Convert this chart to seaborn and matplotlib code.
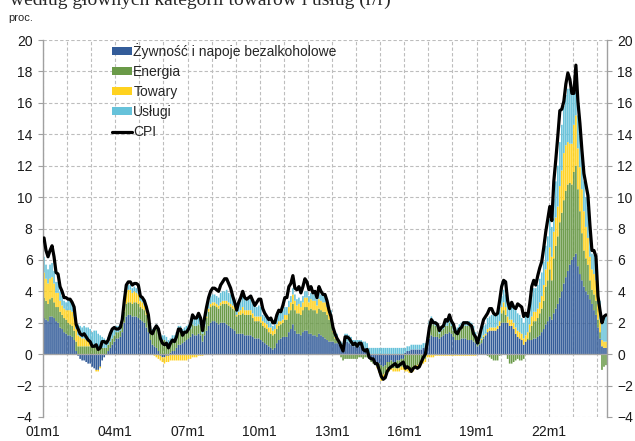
import numpy as np
import pandas as pd
import matplotlib
matplotlib.use("Agg")
import matplotlib.pyplot as plt
import seaborn as sns
from matplotlib.lines import Line2D
from matplotlib.patches import Patch

# Inflacja CPI r/r i wkłady głównych kategorii (pkt proc.), 2001m1 - 2024m5
cpi = [
    7.4, 6.6, 6.2, 6.6, 6.9, 6.2, 5.2, 5.1, 4.3, 4.0, 3.6, 3.6,
    3.5, 3.5, 3.3, 3.0, 1.9, 1.6, 1.3, 1.2, 1.3, 1.1, 0.9, 0.8,
    0.5, 0.5, 0.6, 0.3, 0.4, 0.8, 0.8, 0.7, 0.9, 1.3, 1.6, 1.7,
    1.6, 1.6, 1.7, 2.2, 3.4, 4.4, 4.6, 4.6, 4.4, 4.5, 4.5, 4.4,
    3.7, 3.6, 3.4, 3.0, 2.5, 1.4, 1.3, 1.6, 1.8, 1.6, 1.0, 0.7,
    0.6, 0.7, 0.4, 0.7, 0.9, 0.8, 1.1, 1.6, 1.6, 1.2, 1.4, 1.4,
    1.6, 1.9, 2.5, 2.3, 2.3, 2.6, 2.3, 1.5, 2.3, 3.0, 3.6, 4.0,
    4.2, 4.2, 4.1, 4.0, 4.4, 4.6, 4.8, 4.8, 4.5, 4.2, 3.7, 3.3,
    2.8, 3.3, 3.6, 4.0, 3.6, 3.5, 3.6, 3.7, 3.4, 3.1, 3.3, 3.5,
    3.5, 2.9, 2.6, 2.4, 2.2, 2.3, 2.0, 2.0, 2.5, 2.8, 2.7, 3.1,
    3.6, 3.6, 4.3, 4.5, 5.0, 4.2, 4.1, 4.3, 3.9, 4.3, 4.8, 4.6,
    4.1, 4.3, 3.9, 4.0, 3.6, 4.3, 4.0, 3.8, 3.8, 3.4, 2.8, 2.4,
    1.7, 1.3, 1.0, 0.8, 0.5, 0.2, 1.1, 1.1, 1.0, 0.8, 0.6, 0.7,
    0.5, 0.7, 0.7, 0.3, 0.2, 0.3, -0.2, -0.3, -0.3, -0.6, -0.6, -1.0,
    -1.4, -1.6, -1.5, -1.1, -0.9, -0.8, -0.7, -0.6, -0.8, -0.7, -0.6, -0.5,
    -0.9, -0.8, -0.9, -1.1, -0.9, -0.8, -0.9, -0.8, -0.5, -0.2, 0.0, 0.8,
    1.7, 2.2, 2.0, 2.0, 1.9, 1.5, 1.7, 1.8, 2.2, 2.1, 2.5, 2.1,
    1.9, 1.4, 1.3, 1.6, 1.7, 2.0, 2.0, 2.0, 1.9, 1.8, 1.3, 1.1,
    0.7, 1.2, 1.7, 2.2, 2.4, 2.6, 2.9, 2.9, 2.6, 2.5, 2.6, 3.4,
    4.3, 4.7, 4.6, 3.4, 2.9, 3.3, 3.0, 2.9, 3.2, 3.1, 3.0, 2.4,
    2.6, 2.4, 3.2, 4.3, 4.7, 4.4, 5.0, 5.5, 5.9, 6.8, 7.8, 8.6,
    9.4, 8.5, 11.0, 12.4, 13.9, 15.5, 15.6, 16.1, 17.2, 17.9, 17.5, 16.6,
    16.6, 18.4, 16.1, 14.7, 13.0, 11.5, 10.8, 10.1, 8.2, 6.6, 6.6, 6.2,
    3.7, 2.8, 2.0, 2.4, 2.5,
]

zywnosc = [
    2.3, 2.2, 2.1, 2.4, 2.4, 2.3, 2.1, 2.0, 1.7, 1.6, 1.4, 1.3,
    1.2, 1.2, 1.1, 0.9, 0.2, -0.1, -0.3, -0.4, -0.4, -0.5, -0.6, -0.6,
    -0.8, -0.9, -1.0, -1.0, -0.8, -0.4, -0.2, 0.0, 0.2, 0.4, 0.6, 0.8,
    1.0, 1.0, 1.1, 1.4, 2.0, 2.4, 2.5, 2.5, 2.4, 2.4, 2.4, 2.3,
    2.2, 2.1, 2.0, 1.7, 1.4, 0.9, 0.6, 0.5, 0.4, 0.2, -0.1, -0.2,
    -0.2, -0.1, -0.1, 0.1, 0.2, 0.2, 0.4, 0.6, 0.6, 0.7, 0.8, 0.9,
    1.0, 1.1, 1.3, 1.2, 1.2, 1.3, 1.2, 0.8, 1.2, 1.5, 1.8, 2.0,
    2.1, 2.1, 2.0, 1.9, 2.0, 2.0, 2.0, 1.9, 1.8, 1.7, 1.6, 1.5,
    1.3, 1.3, 1.3, 1.3, 1.2, 1.2, 1.2, 1.2, 1.1, 1.0, 1.0, 1.0,
    0.9, 0.8, 0.7, 0.6, 0.5, 0.4, 0.3, 0.4, 0.7, 0.9, 1.0, 1.1,
    1.1, 1.1, 1.4, 1.6, 1.9, 1.5, 1.3, 1.3, 1.2, 1.4, 1.5, 1.5,
    1.3, 1.3, 1.2, 1.2, 1.1, 1.3, 1.2, 1.1, 1.0, 0.9, 0.8, 0.8,
    0.8, 0.7, 0.7, 0.6, 0.5, 0.4, 0.8, 0.8, 0.7, 0.6, 0.5, 0.5,
    0.5, 0.5, 0.5, 0.4, 0.4, 0.3, -0.1, -0.3, -0.4, -0.5, -0.5, -0.6,
    -0.7, -0.8, -0.7, -0.5, -0.5, -0.4, -0.5, -0.5, -0.4, -0.4, -0.3, -0.3,
    0.1, 0.2, 0.2, 0.3, 0.3, 0.3, 0.3, 0.3, 0.3, 0.4, 0.4, 0.6,
    1.0, 1.2, 1.1, 1.1, 1.1, 1.0, 1.1, 1.2, 1.3, 1.3, 1.4, 1.3,
    1.1, 0.9, 0.9, 0.9, 1.0, 1.0, 1.0, 0.9, 0.9, 0.9, 0.8, 0.7,
    0.5, 0.6, 0.7, 1.0, 1.2, 1.4, 1.5, 1.5, 1.5, 1.5, 1.6, 1.8,
    2.0, 2.0, 2.0, 2.0, 1.8, 1.8, 1.6, 1.3, 1.1, 1.0, 0.9, 0.6,
    0.8, 0.9, 0.9, 0.9, 1.0, 1.0, 1.1, 1.2, 1.4, 1.6, 1.9, 2.1,
    2.4, 2.2, 2.6, 2.9, 3.2, 3.6, 4.0, 4.5, 4.9, 5.3, 5.7, 6.0,
    6.2, 6.4, 5.6, 5.1, 4.7, 4.3, 4.0, 3.8, 3.5, 3.2, 2.8, 2.5,
    1.7, 1.0, 0.5, 0.4, 0.4,
]

energia = [
    1.3, 1.2, 1.1, 1.1, 1.2, 1.0, 0.9, 1.0, 1.0, 0.9, 0.9, 0.9,
    0.8, 0.7, 0.7, 0.6, 0.6, 0.5, 0.5, 0.5, 0.5, 0.5, 0.5, 0.5,
    0.5, 0.6, 0.6, 0.4, 0.4, 0.4, 0.4, 0.4, 0.4, 0.4, 0.4, 0.4,
    0.4, 0.4, 0.4, 0.5, 0.7, 0.8, 0.8, 0.8, 0.8, 0.9, 0.9, 0.9,
    0.8, 0.8, 0.8, 0.8, 0.7, 0.6, 0.8, 1.0, 1.2, 1.2, 1.0, 0.9,
    0.9, 0.8, 0.6, 0.6, 0.7, 0.7, 0.7, 0.9, 0.8, 0.5, 0.5, 0.5,
    0.5, 0.5, 0.6, 0.6, 0.6, 0.6, 0.6, 0.5, 0.6, 0.8, 0.9, 1.0,
    1.0, 1.0, 1.0, 1.0, 1.1, 1.2, 1.2, 1.3, 1.3, 1.3, 1.3, 1.3,
    1.1, 1.2, 1.2, 1.3, 1.3, 1.3, 1.3, 1.3, 1.2, 1.1, 1.1, 1.1,
    1.1, 1.0, 1.0, 1.0, 0.9, 0.9, 0.9, 0.9, 0.9, 0.9, 0.9, 0.9,
    1.1, 1.1, 1.2, 1.2, 1.3, 1.3, 1.3, 1.3, 1.3, 1.4, 1.5, 1.5,
    1.5, 1.6, 1.6, 1.6, 1.5, 1.6, 1.6, 1.6, 1.7, 1.6, 1.4, 1.4,
    0.6, 0.3, 0.2, 0.0, -0.2, -0.4, -0.3, -0.3, -0.3, -0.3, -0.3, -0.3,
    -0.3, -0.2, -0.2, -0.3, -0.2, -0.2, -0.2, -0.2, -0.2, -0.2, -0.3, -0.5,
    -0.8, -0.5, -0.5, -0.4, -0.4, -0.4, -0.4, -0.4, -0.5, -0.5, -0.5, -0.5,
    -0.8, -0.8, -0.9, -0.9, -0.8, -0.7, -0.7, -0.6, -0.5, -0.4, -0.3, 0.2,
    0.8, 0.9, 0.8, 0.7, 0.6, 0.3, 0.4, 0.4, 0.5, 0.5, 0.6, 0.5,
    0.4, 0.4, 0.5, 0.7, 0.7, 0.8, 0.8, 0.9, 0.9, 0.8, 0.7, 0.4,
    0.1, 0.2, 0.2, 0.1, 0.0, -0.1, -0.2, -0.3, -0.4, -0.4, -0.4, -0.1,
    0.6, 0.8, 0.5, -0.3, -0.6, -0.6, -0.5, -0.4, -0.3, -0.4, -0.4, -0.3,
    0.0, 0.1, 0.5, 0.9, 1.1, 1.1, 1.2, 1.4, 1.5, 1.8, 2.4, 2.6,
    3.0, 2.5, 3.5, 4.0, 4.3, 4.8, 5.0, 5.3, 5.5, 5.5, 5.2, 4.8,
    5.4, 5.6, 4.9, 4.0, 3.0, 2.3, 2.1, 1.9, 1.2, 0.9, 1.0, 0.9,
    0.5, 0.4, -1.0, -0.8, -0.7,
]

towary = [
    1.6, 1.4, 1.3, 1.3, 1.3, 1.2, 0.9, 0.9, 0.7, 0.6, 0.6, 0.6,
    0.8, 0.9, 0.9, 0.9, 0.8, 0.7, 0.6, 0.5, 0.5, 0.4, 0.4, 0.3,
    0.1, 0.0, -0.1, -0.1, -0.1, 0.0, 0.0, 0.0, 0.0, 0.0, 0.0, 0.0,
    0.0, 0.0, 0.0, 0.2, 0.6, 0.8, 0.8, 0.8, 0.7, 0.7, 0.6, 0.6,
    0.4, 0.4, 0.3, 0.3, 0.2, 0.1, 0.0, -0.1, -0.2, -0.3, -0.3, -0.3,
    -0.4, -0.4, -0.4, -0.4, -0.4, -0.4, -0.4, -0.4, -0.4, -0.4, -0.4, -0.4,
    -0.3, -0.3, -0.2, -0.2, -0.2, -0.1, -0.1, -0.1, 0.0, 0.1, 0.2, 0.2,
    0.2, 0.2, 0.2, 0.2, 0.2, 0.2, 0.2, 0.2, 0.2, 0.2, 0.2, 0.2,
    0.1, 0.2, 0.3, 0.4, 0.3, 0.3, 0.3, 0.3, 0.3, 0.3, 0.3, 0.3,
    0.4, 0.3, 0.3, 0.3, 0.3, 0.4, 0.3, 0.3, 0.3, 0.3, 0.2, 0.2,
    0.3, 0.3, 0.4, 0.5, 0.6, 0.6, 0.5, 0.6, 0.5, 0.5, 0.6, 0.6,
    0.5, 0.6, 0.6, 0.6, 0.5, 0.6, 0.6, 0.6, 0.6, 0.5, 0.4, 0.3,
    0.1, 0.1, 0.1, 0.0, 0.0, 0.0, 0.0, 0.0, 0.0, 0.0, 0.0, 0.0,
    0.0, 0.0, 0.0, 0.0, 0.0, 0.0, 0.0, 0.0, 0.0, 0.0, -0.1, -0.1,
    -0.2, -0.2, -0.2, -0.2, -0.2, -0.2, -0.2, -0.2, -0.2, -0.2, -0.2, -0.2,
    -0.3, -0.3, -0.3, -0.3, -0.3, -0.2, -0.2, -0.2, -0.2, -0.2, -0.2, -0.2,
    -0.2, -0.2, -0.2, -0.1, -0.1, -0.1, -0.1, -0.1, -0.1, -0.1, -0.1, -0.1,
    -0.1, -0.1, -0.1, -0.1, -0.1, -0.1, -0.1, -0.1, -0.1, -0.1, -0.1, -0.1,
    0.0, 0.0, 0.1, 0.1, 0.1, 0.2, 0.2, 0.2, 0.2, 0.2, 0.2, 0.3,
    0.4, 0.5, 0.5, 0.4, 0.4, 0.4, 0.4, 0.4, 0.4, 0.4, 0.4, 0.4,
    0.4, 0.4, 0.5, 0.6, 0.6, 0.6, 0.6, 0.7, 0.8, 1.0, 1.1, 1.2,
    1.4, 1.5, 1.7, 1.8, 1.9, 2.3, 2.7, 3.0, 2.9, 2.7, 2.5, 2.6,
    3.0, 3.2, 2.6, 2.8, 2.8, 2.5, 2.0, 1.7, 1.5, 1.3, 1.3, 1.3,
    1.0, 0.8, 0.4, 0.4, 0.4,
]

uslugi = [
    1.0, 0.9, 0.9, 0.9, 0.9, 0.8, 0.7, 0.7, 0.6, 0.6, 0.5, 0.5,
    0.6, 0.6, 0.7, 0.7, 0.7, 0.7, 0.7, 0.7, 0.8, 0.8, 0.8, 0.8,
    0.8, 0.9, 0.9, 0.9, 0.8, 0.7, 0.6, 0.5, 0.5, 0.5, 0.5, 0.5,
    0.4, 0.4, 0.4, 0.3, 0.3, 0.3, 0.3, 0.3, 0.3, 0.3, 0.3, 0.3,
    0.4, 0.4, 0.4, 0.3, 0.3, 0.2, 0.2, 0.2, 0.3, 0.3, 0.3, 0.3,
    0.3, 0.3, 0.3, 0.3, 0.3, 0.3, 0.3, 0.3, 0.4, 0.4, 0.4, 0.4,
    0.4, 0.4, 0.5, 0.5, 0.5, 0.5, 0.5, 0.4, 0.4, 0.4, 0.5, 0.5,
    0.5, 0.5, 0.5, 0.5, 0.6, 0.6, 0.6, 0.7, 0.6, 0.6, 0.5, 0.5,
    0.4, 0.5, 0.6, 0.8, 0.8, 0.7, 0.7, 0.7, 0.6, 0.6, 0.6, 0.7,
    0.6, 0.4, 0.4, 0.4, 0.4, 0.3, 0.3, 0.3, 0.4, 0.5, 0.6, 0.6,
    0.5, 0.5, 0.4, 0.4, 0.4, 0.4, 0.4, 0.4, 0.4, 0.4, 0.4, 0.4,
    0.4, 0.4, 0.4, 0.4, 0.4, 0.4, 0.4, 0.4, 0.4, 0.4, 0.3, 0.3,
    0.3, 0.3, 0.3, 0.3, 0.3, 0.3, 0.5, 0.5, 0.5, 0.5, 0.4, 0.4,
    0.4, 0.4, 0.4, 0.4, 0.4, 0.4, 0.4, 0.4, 0.4, 0.4, 0.4, 0.4,
    0.4, 0.4, 0.4, 0.4, 0.4, 0.4, 0.4, 0.4, 0.4, 0.4, 0.4, 0.4,
    0.3, 0.3, 0.3, 0.3, 0.3, 0.3, 0.3, 0.3, 0.3, 0.3, 0.3, 0.3,
    0.3, 0.3, 0.3, 0.3, 0.3, 0.3, 0.3, 0.3, 0.3, 0.3, 0.4, 0.4,
    0.4, 0.3, 0.3, 0.3, 0.3, 0.3, 0.3, 0.3, 0.3, 0.3, 0.3, 0.3,
    0.3, 0.4, 0.5, 0.6, 0.6, 0.7, 0.7, 0.8, 0.8, 0.8, 0.8, 0.9,
    0.7, 0.8, 0.8, 0.9, 1.0, 1.1, 1.1, 1.1, 1.1, 1.1, 1.0, 1.0,
    1.3, 1.3, 1.3, 1.4, 1.5, 1.5, 1.5, 1.5, 1.5, 1.5, 1.5, 1.6,
    1.8, 1.9, 2.1, 2.3, 2.6, 2.8, 2.9, 3.0, 3.2, 3.4, 3.5, 3.4,
    2.6, 2.4, 2.1, 2.0, 2.0, 1.9, 1.9, 1.9, 1.4, 1.0, 1.2, 1.2,
    1.0, 1.2, 1.5, 1.6, 1.6,
]

nazwy = ["Żywność i napoje bezalkoholowe", "Energia", "Towary", "Usługi"]
kolory = ["#335C99", "#6A9A48", "#FFD21F", "#66C2DA"]
etykiety_x = ["01m1", "04m1", "07m1", "10m1", "13m1", "16m1", "19m1", "22m1"]

sns.set_style("white")
plt.rcParams['font.family'] = ['Liberation Sans', 'DejaVu Sans']

n = len(cpi)
df = pd.DataFrame({'t': np.arange(n), 'cpi': cpi})

fig = plt.figure(figsize=(6.35, 4.41), dpi=100)
ax = fig.add_axes([43 / 635, 1 - 417 / 441, (607 - 43) / 635, (417 - 40) / 441])

# słupki skumulowane - dodatnie w górę, ujemne w dół
pos_base = np.zeros(n)
neg_base = np.zeros(n)
for seria, kolor in zip([zywnosc, energia, towary, uslugi], kolory):
    v = np.array(seria)
    base = np.where(v >= 0, pos_base, neg_base)
    bars = ax.bar(df['t'], v, bottom=base, width=0.8, color=kolor, linewidth=0, zorder=2)
    for b in bars:
        b.set_snap(False)
    pos_base += np.where(v > 0, v, 0)
    neg_base += np.where(v < 0, v, 0)

sns.lineplot(data=df, x='t', y='cpi', color='black', lw=2.3, ax=ax, zorder=4)
ax.axhline(0, color='#A6A6A6', lw=0.9, zorder=3)

ax.set_xlim(-0.5, n - 0.5)
ax.set_ylim(-4, 20)
ax.set_yticks(np.arange(-4, 21, 2))
ax.set_xticks(np.arange(-0.5, n, 36))
ax.set_xticklabels(etykiety_x)
ax.set_xticks(np.arange(-0.5, n, 12), minor=True)
ax.set_xlabel('')
ax.set_ylabel('')

ax.grid(True, which='both', axis='x', color='#BDBDBD', ls=(0, (3, 2)), lw=0.8, zorder=0)
ax.grid(True, which='major', axis='y', color='#BDBDBD', ls=(0, (3, 2)), lw=0.8, zorder=0)
for s in ['top', 'bottom']:
    ax.spines[s].set_visible(False)
for s in ['left', 'right']:
    ax.spines[s].set_color('#A0A0A0')
    ax.spines[s].set_linewidth(1.0)

ax.tick_params(axis='x', which='both', length=0, pad=6, labelsize=10, colors='#1a1a1a')
ax.tick_params(axis='y', length=3.5, width=0.8, color='#A0A0A0', pad=4, labelsize=10,
               labelcolor='#1a1a1a', left=True, right=True, labelright=True, direction='out')

# legenda
uchwyty = [Patch(facecolor=k, edgecolor='none') for k in kolory]
uchwyty.append(Line2D([0], [0], color='black', lw=2.3))
ax.legend(uchwyty, nazwy + ["CPI"], loc='upper left', frameon=False,
          bbox_to_anchor=(112 / 635, 1 - 43 / 441), bbox_transform=fig.transFigure,
          borderaxespad=0, borderpad=0, handlelength=1.45, handleheight=0.5,
          handletextpad=0.08, labelspacing=0.44, fontsize=10)

fig.text(10 / 635, 1 - 5 / 441, "według głównych kategorii towarów i usług (r/r)",
         family=['Liberation Serif', 'DejaVu Serif'], fontsize=14, va='baseline', ha='left')
fig.text(8 / 635, 1 - 21 / 441, "proc.", fontsize=8, va='baseline', ha='left')

fig.savefig("out.png", dpi=100)
